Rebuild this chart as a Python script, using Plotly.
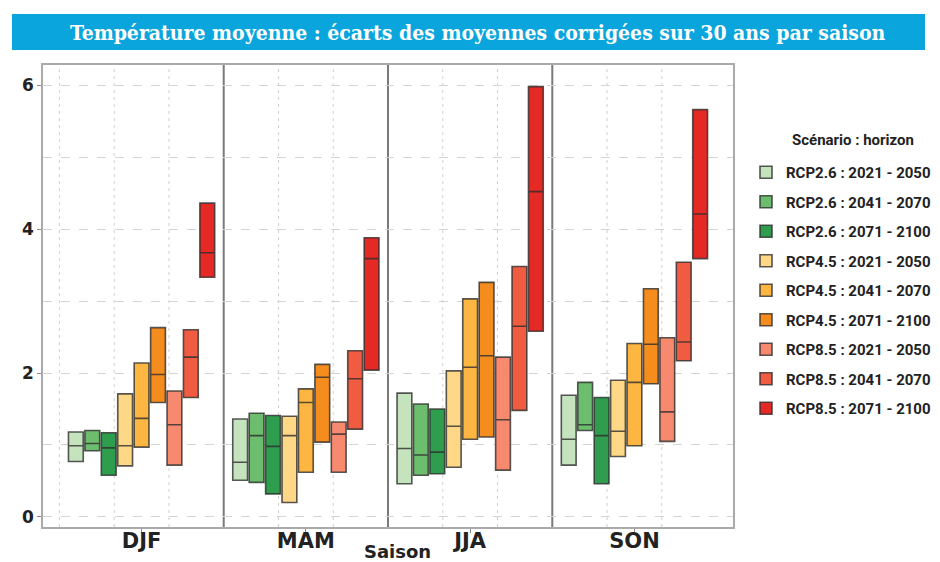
import plotly.graph_objects as go

seasons = ["DJF", "MAM", "JJA", "SON"]
series = [
    "RCP2.6 : 2021 - 2050", "RCP2.6 : 2041 - 2070", "RCP2.6 : 2071 - 2100",
    "RCP4.5 : 2021 - 2050", "RCP4.5 : 2041 - 2070", "RCP4.5 : 2071 - 2100",
    "RCP8.5 : 2021 - 2050", "RCP8.5 : 2041 - 2070", "RCP8.5 : 2071 - 2100",
]
colors = ["#c5e3bd", "#6dbd6f", "#2e9d4e",
          "#fed886", "#fcb641", "#f48c1e",
          "#f7896f", "#f05c42", "#e52a25"]

# per series: values for DJF, MAM, JJA, SON
q1 = [
    [0.77, 0.51, 0.46, 0.72],
    [0.92, 0.48, 0.58, 1.20],
    [0.58, 0.32, 0.60, 0.46],
    [0.71, 0.20, 0.69, 0.84],
    [0.97, 0.62, 1.08, 0.99],
    [1.59, 1.04, 1.11, 1.85],
    [0.72, 0.62, 0.65, 1.05],
    [1.66, 1.22, 1.48, 2.17],
    [3.33, 2.04, 2.58, 3.59],
]
med = [
    [0.99, 0.76, 0.95, 1.08],
    [1.02, 1.13, 0.86, 1.28],
    [0.96, 0.98, 0.90, 1.13],
    [0.99, 1.13, 1.26, 1.19],
    [1.37, 1.59, 2.08, 1.87],
    [1.98, 1.94, 2.24, 2.40],
    [1.28, 1.15, 1.35, 1.46],
    [2.22, 1.92, 2.65, 2.43],
    [3.67, 3.59, 4.52, 4.21],
]
q3 = [
    [1.18, 1.36, 1.72, 1.69],
    [1.20, 1.44, 1.57, 1.87],
    [1.17, 1.41, 1.50, 1.66],
    [1.71, 1.40, 2.03, 1.90],
    [2.14, 1.78, 3.03, 2.41],
    [2.63, 2.12, 3.26, 3.17],
    [1.75, 1.32, 2.22, 2.49],
    [2.60, 2.31, 3.48, 3.54],
    [4.36, 3.88, 5.98, 5.66],
]
y_ticks = [0, 2, 4, 6]

W, H = 940, 562
L, R, T, B = 43, 733, 65, 527


def px_x(px):
    return (px - L) / (R - L)


def px_y(py):
    return (B - py) / (B - T)


fig = go.Figure()
for i, name in enumerate(series):
    fig.add_trace(go.Box(
        x=seasons, q1=q1[i], median=med[i], q3=q3[i],
        lowerfence=q1[i], upperfence=q3[i],
        name=name, legendgroup=name,
        fillcolor=colors[i],
        line=dict(color="rgba(45,45,45,0.8)", width=1.6),
        whiskerwidth=0, boxpoints=False, hoverinfo="skip",
    ))

shapes = []
# vertical dashed grid lines
for xv in [-0.5, -1/6, 1/6, 5/6, 7/6, 11/6, 13/6, 17/6, 19/6]:
    shapes.append(dict(type="line", xref="x", yref="paper", x0=xv, x1=xv, y0=0, y1=1,
                       line=dict(color="#d0d0d0", width=1, dash="3px,4px"), layer="below"))
# season separators
for xv in [0.5, 1.5, 2.5]:
    shapes.append(dict(type="line", xref="x", yref="paper", x0=xv, x1=xv, y0=0, y1=1,
                       line=dict(color="#7a7a7a", width=2), layer="below"))
# title banner
shapes.append(dict(type="rect", xref="paper", yref="paper",
                   x0=px_x(12), x1=px_x(925), y0=px_y(50), y1=px_y(14),
                   fillcolor="#0aa5dc", line=dict(width=0), layer="below"))

annotations = [
    dict(text="<b>Température moyenne : écarts des moyennes corrigées sur 30 ans par saison</b>",
         xref="paper", yref="paper", x=px_x(478), y=px_y(32), xanchor="center", yanchor="middle",
         showarrow=False, font=dict(family="DejaVu Serif Condensed, DejaVu Serif", size=21, color="white")),
    dict(text="<b>Saison</b>", xref="paper", yref="paper", x=px_x(398), y=px_y(551),
         xanchor="center", yanchor="middle", showarrow=False,
         font=dict(family="DejaVu Sans", size=18, color="#222")),
    dict(text="<b>Scénario : horizon</b>", xref="paper", yref="paper", x=px_x(790), y=px_y(140),
         xanchor="left", yanchor="middle", showarrow=False,
         font=dict(family="Roboto", size=15, color="#222")),
]

fig.update_layout(
    width=W, height=H,
    margin=dict(l=L, r=W - R, t=T, b=H - B, pad=0, autoexpand=False),
    paper_bgcolor="white", plot_bgcolor="white",
    boxmode="group", boxgap=0.1, boxgroupgap=0.1,
    shapes=shapes, annotations=annotations,
    showlegend=True,
    legend=dict(x=px_x(746), y=px_y(156), xanchor="left", yanchor="top",
                font=dict(family="Roboto", size=15, color="#222", weight="bold"),
                tracegroupgap=7, bgcolor="rgba(0,0,0,0)"),
    font=dict(family="DejaVu Sans", color="#222"),
)
fig.update_xaxes(
    type="category", range=[-0.6, 3.6], showgrid=False, zeroline=False, automargin=False,
    showline=True, mirror=True, linecolor="#aaaaaa", linewidth=1.5,
    ticks="outside", ticklen=4, tickcolor="#888", ticklabelstandoff=-10,
    tickfont=dict(family="DejaVu Sans", size=21, color="#222"),
    tickprefix="<b>", ticksuffix="</b>",
)
fig.update_yaxes(
    range=[-0.14, 6.28], tickvals=y_ticks, ticktext=[f"<b>{v}</b>" for v in y_ticks],
    automargin=False,
    showgrid=True, gridcolor="#d4d4d4", gridwidth=1, griddash="dash",
    minor=dict(dtick=1, tick0=0, showgrid=True, gridcolor="#d4d4d4", gridwidth=1, griddash="dash"),
    zeroline=False, showline=True, mirror=True, linecolor="#aaaaaa", linewidth=1.5,
    ticks="outside", ticklen=4, tickcolor="#888",
    tickfont=dict(family="DejaVu Sans", size=17, color="#222"),
)

fig.write_html("out.html", config={"displayModeBar": False},
               post_script="document.body.style.margin='0px';")
